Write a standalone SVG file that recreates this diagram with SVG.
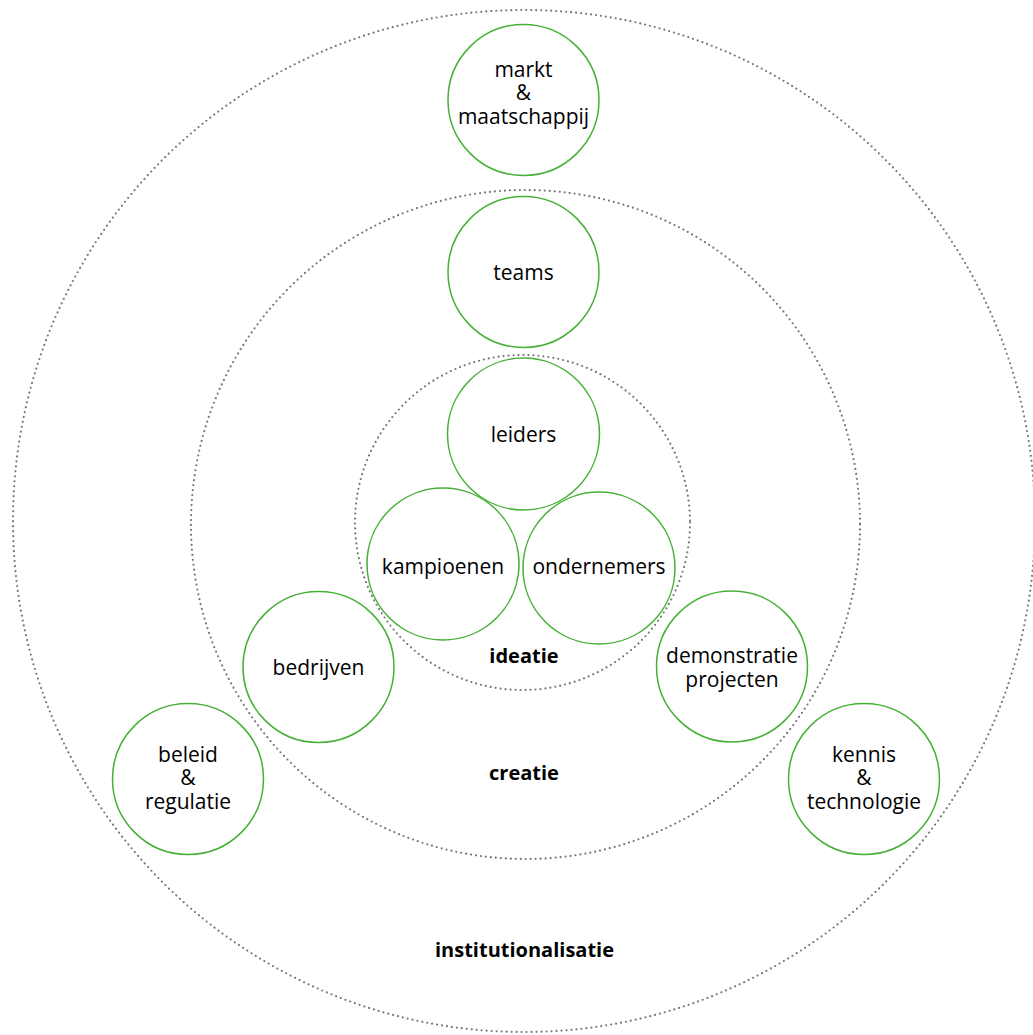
<svg xmlns="http://www.w3.org/2000/svg" width="1033" height="1035" viewBox="0 0 1033 1035">
<style>
.ring{fill:none;stroke:#767676;stroke-width:2.2;stroke-dasharray:0 5;stroke-linecap:round}
.node{fill:#fff;stroke:#45b035;stroke-width:1.5}
.t{font-family:"Open Sans","Noto Sans",sans-serif;font-size:21px;fill:#000;text-anchor:middle}
.b{font-family:"Open Sans","Noto Sans",sans-serif;font-size:20px;font-weight:bold;fill:#000;text-anchor:middle}
</style>
<rect width="1033" height="1035" fill="#fff"/>
<g id="rings">
<circle id="ring-institutionalisatie" class="ring" cx="524" cy="521" r="511"/>
<circle id="ring-creatie" class="ring" cx="525.5" cy="524.5" r="334.5"/>
<circle id="ring-ideatie" class="ring" cx="522.5" cy="522.5" r="167.5"/>
</g>
<g id="ring-labels">
<text class="b" x="524" y="663">ideatie</text>
<text class="b" x="524" y="780">creatie</text>
<text class="b" x="524.5" y="957">institutionalisatie</text>
</g>
<g id="connectors"></g>
<g id="markt">
<circle class="node" cx="523.5" cy="100" r="75.5"/>
<text class="t" x="523.5" y="77">markt<tspan x="523.5" y="100">&amp;</tspan><tspan x="523.5" y="124">maatschappij</tspan></text>
</g>
<g id="teams">
<circle class="node" cx="523.5" cy="272" r="75.5"/>
<text class="t" x="523.5" y="280">teams</text>
</g>
<g id="leiders">
<circle class="node" cx="523.5" cy="434" r="76"/>
<text class="t" x="523.5" y="442">leiders</text>
</g>
<g id="kampioenen">
<circle class="node" cx="443" cy="564" r="76"/>
<text class="t" x="443" y="574">kampioenen</text>
</g>
<g id="ondernemers">
<circle class="node" cx="599" cy="568" r="76"/>
<text class="t" x="599" y="574">ondernemers</text>
</g>
<g id="bedrijven">
<circle class="node" cx="318.5" cy="667" r="75.5"/>
<text class="t" x="318.5" y="675">bedrijven</text>
</g>
<g id="demonstratie">
<circle class="node" cx="732" cy="666.5" r="75.5"/>
<text class="t" x="732" y="663">demonstratie<tspan x="732" y="687">projecten</tspan></text>
</g>
<g id="beleid">
<circle class="node" cx="188" cy="779" r="75.5"/>
<text class="t" x="188" y="762">beleid<tspan x="188" y="785">&amp;</tspan><tspan x="188" y="809">regulatie</tspan></text>
</g>
<g id="kennis">
<circle class="node" cx="864" cy="779" r="75.5"/>
<text class="t" x="864" y="762">kennis<tspan x="864" y="785">&amp;</tspan><tspan x="864" y="809">technologie</tspan></text>
</g>
</svg>
